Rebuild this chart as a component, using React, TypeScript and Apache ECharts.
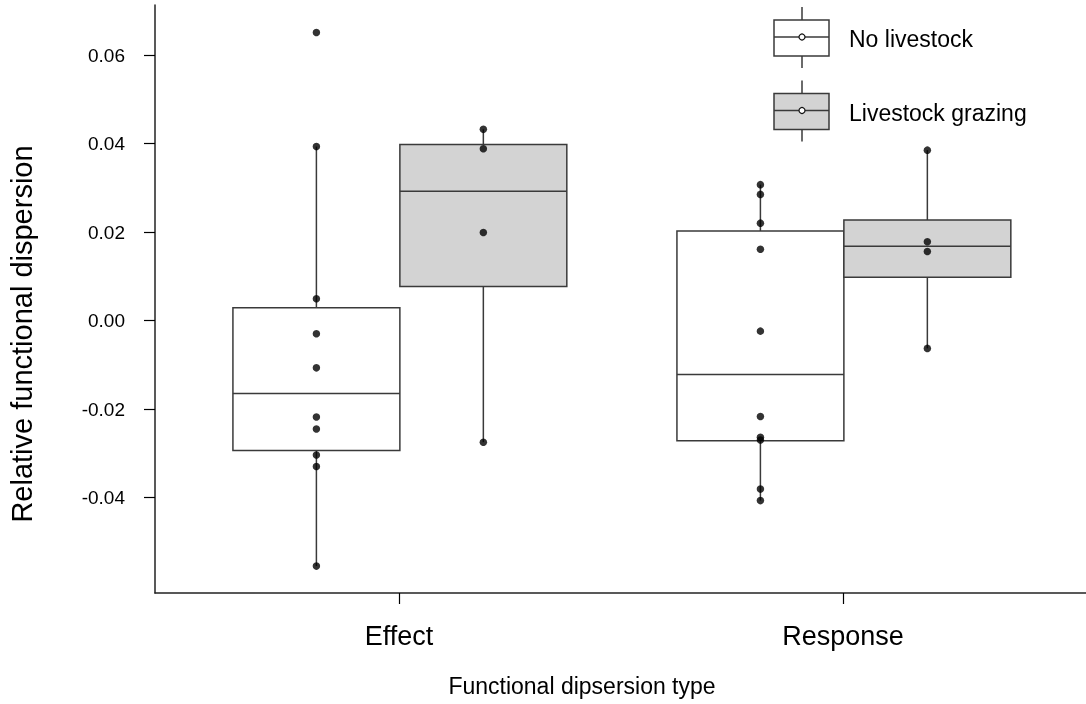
import React, { useEffect, useRef } from "react";
import * as echarts from "echarts";

const categories = ["Effect", "Response"];
const treatments = ["No livestock", "Livestock grazing"];
const categoryPositions = [1, 2];
const groupOffsets = [-0.186, 0.19];
const boxWidth = 0.376;

// [lower whisker, Q1, median, Q3, upper whisker]
const effectNoLivestockBox = [-0.0555, -0.0294, -0.0165, 0.0029, 0.0393];
const effectGrazingBox = [-0.0275, 0.0077, 0.0292, 0.0398, 0.0432];
const responseNoLivestockBox = [-0.0407, -0.0272, -0.0122, 0.0202, 0.0307];
const responseGrazingBox = [-0.0063, 0.0098, 0.0168, 0.0227, 0.0385];

const effectNoLivestockPoints = [0.0651, 0.0393, 0.0049, -0.003, -0.0107, -0.0218, -0.0245, -0.0304, -0.033, -0.0555];
const effectGrazingPoints = [0.0432, 0.0388, 0.0199, -0.0275];
const responseNoLivestockPoints = [0.0307, 0.0285, 0.022, 0.0161, -0.0024, -0.0217, -0.0264, -0.027, -0.0381, -0.0407];
const responseGrazingPoints = [0.0385, 0.0178, 0.0156, -0.0063];

const yTicks = [-0.04, -0.02, 0, 0.02, 0.04, 0.06];
const boxFills = ["#ffffff", "#d3d3d3"];

const FONT = "'Liberation Sans', Arial, sans-serif";
const STROKE = "#3a3a3a";

export default function App() {
  const ref = useRef<HTMLDivElement>(null);

  useEffect(() => {
    if (!ref.current) return;
    const chart = echarts.init(ref.current, undefined, { renderer: "svg" });

    const boxes = [
      [effectNoLivestockBox, effectGrazingBox],
      [responseNoLivestockBox, responseGrazingBox],
    ];
    const points = [
      [effectNoLivestockPoints, effectGrazingPoints],
      [responseNoLivestockPoints, responseGrazingPoints],
    ];

    const boxData: number[][] = [];
    const pointData: number[][] = [];
    categories.forEach((_, c) => {
      treatments.forEach((__, g) => {
        const x = categoryPositions[c] + groupOffsets[g];
        boxData.push([x, ...boxes[c][g], g]);
        points[c][g].forEach((v) => pointData.push([x, v]));
      });
    });

    const legendGraphics: any[] = [];
    const legendTop = [7, 80.5];
    treatments.forEach((name, g) => {
      const t = legendTop[g];
      const cx = 802;
      legendGraphics.push(
        { type: "line", shape: { x1: cx, y1: t, x2: cx, y2: t + 13 }, style: { stroke: STROKE, lineWidth: 1.5 } },
        { type: "rect", shape: { x: 774, y: t + 13, width: 55, height: 36 }, style: { fill: boxFills[g], stroke: STROKE, lineWidth: 1.5 } },
        { type: "line", shape: { x1: 774, y1: t + 30, x2: 829, y2: t + 30 }, style: { stroke: STROKE, lineWidth: 1.5 } },
        { type: "line", shape: { x1: cx, y1: t + 49, x2: cx, y2: t + 61 }, style: { stroke: STROKE, lineWidth: 1.5 } },
        { type: "circle", shape: { cx: cx, cy: t + 30, r: 3 }, style: { fill: "#ffffff", stroke: "#111", lineWidth: 1.2 } },
        {
          type: "text",
          x: 849,
          y: t + 32,
          style: { text: name, font: `23px ${FONT}`, fill: "#000", textAlign: "left", textVerticalAlign: "middle" },
        }
      );
    });

    chart.setOption({
      animation: false,
      grid: { left: 155, top: 5, right: 0, bottom: 111 },
      xAxis: {
        type: "value",
        min: 0.4505,
        max: 2.5473,
        splitLine: { show: false },
        axisLine: { show: true, onZero: false, lineStyle: { color: "#222", width: 1.5 } },
        axisTick: { show: true, customValues: categoryPositions, length: 11, lineStyle: { color: "#000", width: 1.2 } },
        axisLabel: {
          customValues: categoryPositions,
          formatter: (v: number) => categories[Math.round(v) - 1] ?? "",
          fontSize: 27,
          fontFamily: FONT,
          color: "#000",
          margin: 29,
        },
      },
      yAxis: {
        type: "value",
        min: -0.06158,
        max: 0.0713,
        splitLine: { show: false },
        axisLine: { show: true, onZero: false, lineStyle: { color: "#222", width: 1.5 } },
        axisTick: { show: true, customValues: yTicks, length: 11, lineStyle: { color: "#000", width: 1.2 } },
        axisLabel: {
          customValues: yTicks,
          formatter: (v: number) => v.toFixed(2),
          fontSize: 19,
          fontFamily: FONT,
          color: "#000",
          margin: 30,
        },
      },
      graphic: [
        {
          type: "text",
          x: 22,
          y: 334,
          rotation: Math.PI / 2,
          style: {
            text: "Relative functional dispersion",
            font: `29px ${FONT}`,
            fill: "#000",
            textAlign: "center",
            textVerticalAlign: "middle",
          },
        },
        {
          type: "text",
          x: 582,
          y: 686,
          style: {
            text: "Functional dipsersion type",
            font: `23px ${FONT}`,
            fill: "#000",
            textAlign: "center",
            textVerticalAlign: "middle",
          },
        },
        ...legendGraphics,
      ],
      series: [
        {
          type: "custom",
          z: 2,
          data: boxData,
          encode: { x: 0, y: [1, 2, 3, 4, 5] },
          renderItem: (params: any, api: any) => {
            const x = api.value(0);
            const low = api.coord([x, api.value(1)]);
            const q1 = api.coord([x, api.value(2)]);
            const med = api.coord([x, api.value(3)]);
            const q3 = api.coord([x, api.value(4)]);
            const high = api.coord([x, api.value(5)]);
            const left = api.coord([x - boxWidth / 2, 0])[0];
            const right = api.coord([x + boxWidth / 2, 0])[0];
            const fill = boxFills[api.value(6)];
            const ls = { stroke: STROKE, lineWidth: 1.5 };
            return {
              type: "group",
              children: [
                { type: "line", shape: { x1: high[0], y1: high[1], x2: q3[0], y2: q3[1] }, style: ls },
                { type: "line", shape: { x1: q1[0], y1: q1[1], x2: low[0], y2: low[1] }, style: ls },
                {
                  type: "rect",
                  shape: { x: left, y: q3[1], width: right - left, height: q1[1] - q3[1] },
                  style: { fill, stroke: STROKE, lineWidth: 1.5 },
                },
                { type: "line", shape: { x1: left, y1: med[1], x2: right, y2: med[1] }, style: ls },
              ],
            };
          },
        },
        {
          type: "scatter",
          z: 3,
          data: pointData,
          symbol: "circle",
          symbolSize: 7.5,
          itemStyle: { color: "#000" },
        },
      ],
    });

    return () => chart.dispose();
  }, []);

  return <div ref={ref} style={{ position: "fixed", left: 0, top: 0, width: 1086, height: 704 }} />;
}
